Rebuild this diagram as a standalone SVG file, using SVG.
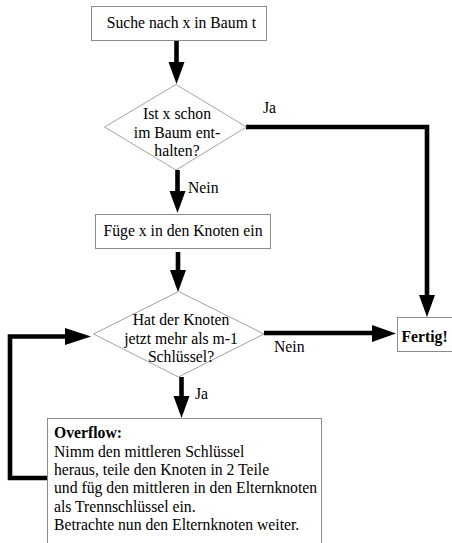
<svg xmlns="http://www.w3.org/2000/svg" width="452" height="543" viewBox="0 0 452 543">
<style>
.box{fill:#fff;stroke:#8c8c8c;stroke-width:1}
.dia{fill:#fff;stroke:#8c8c8c;stroke-width:0.8}
text{font-family:'Liberation Serif','Times New Roman',serif;font-size:15.7px;fill:#000}
.b{font-weight:bold}
.c{text-anchor:middle}
.ln{fill:none;stroke:#000;stroke-width:4.6;stroke-linejoin:miter}
.ah{fill:#000;stroke:none}
</style>
<rect width="452" height="543" fill="#fff"/>
<g id="connectors">
<line class="ln" x1="176.5" y1="41" x2="176.5" y2="64"/>
<polygon class="ah" points="168.5,62 184.5,62 176.5,84"/>
<polyline class="ln" points="246,127 427,127 427,297"/>
<polygon class="ah" points="419,295 435,295 427,317"/>
<text x="263" y="112.7">Ja</text>
<line class="ln" x1="177.5" y1="170" x2="177.5" y2="193"/>
<polygon class="ah" points="169.5,191 185.5,191 177.5,213"/>
<text x="188" y="193">Nein</text>
<line class="ln" x1="178" y1="252" x2="178" y2="272"/>
<polygon class="ah" points="170,270 186,270 178,292"/>
<line class="ln" x1="264" y1="333" x2="374" y2="333"/>
<polygon class="ah" points="372,325 372,342 396,333.5"/>
<text x="274" y="352">Nein</text>
<line class="ln" x1="181.5" y1="377" x2="181.5" y2="398"/>
<polygon class="ah" points="173.5,396 189.5,396 181.5,418"/>
<text x="195" y="399">Ja</text>
<polyline class="ln" points="47,478 10,478 10,336.5 67,336.5"/>
<polygon class="ah" points="65,328 65,345 91,336.5"/>
</g>
<g id="n1">
<rect class="box" x="91.5" y="6.5" width="175" height="34"/>
<text x="106.7" y="28">Suche nach x in Baum t</text>
</g>
<g id="n2">
<polygon class="dia" points="104.5,127 176,84.5 246.5,127 176,170"/>
<text class="c" x="177" y="119.3">Ist x schon</text>
<text class="c" x="177" y="137.7">im Baum ent-</text>
<text class="c" x="177" y="156">halten?</text>
</g>
<g id="n3">
<rect class="box" x="95.5" y="214.5" width="175" height="34"/>
<text class="c" x="183" y="236">Füge x in den Knoten ein</text>
</g>
<g id="n4">
<polygon class="dia" points="93.5,334 178.5,291.5 264,334 178.5,377"/>
<text class="c" x="181" y="325">Hat der Knoten</text>
<text class="c" x="181" y="343.5">jetzt mehr als m-1</text>
<text class="c" x="181" y="362">Schlüssel?</text>
</g>
<g id="n5">
<rect class="box" x="397.5" y="317.5" width="60" height="34"/>
<text class="b" x="401.5" y="341.5">Fertig!</text>
</g>
<g id="n6">
<rect class="box" x="47.5" y="418.5" width="274" height="130"/>
<text class="b" x="54" y="438">Overflow:</text>
<text x="54" y="456.5">Nimm den mittleren Schlüssel</text>
<text x="54" y="475">heraus, teile den Knoten in 2 Teile</text>
<text x="54" y="493.3">und füg den mittleren in den Elternknoten</text>
<text x="54" y="511.6">als Trennschlüssel ein.</text>
<text x="54" y="530">Betrachte nun den Elternknoten weiter.</text>
</g>
</svg>
